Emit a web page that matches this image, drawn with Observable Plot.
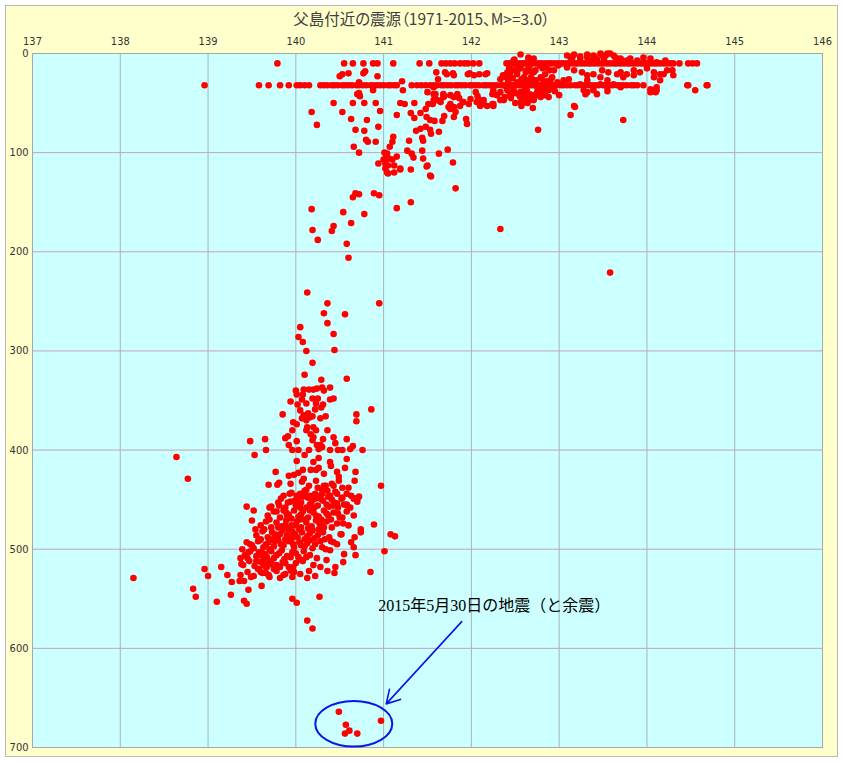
<!DOCTYPE html>
<html><head><meta charset="utf-8">
<script src="https://cdn.jsdelivr.net/npm/d3@7"></script>
<script src="https://cdn.jsdelivr.net/npm/@observablehq/plot@0.6"></script>
<style>
html,body{margin:0;padding:0;background:#fff;}
#box{position:absolute;left:5px;top:5px;width:833px;height:752px;background:#FFFFCC;border:1px solid #B8B8B8;box-sizing:border-box;}
#title{position:absolute;left:0;top:7px;width:843px;text-align:center;font-family:"Noto Sans CJK JP",sans-serif;font-size:15.5px;line-height:22px;color:#404040;font-feature-settings:"palt";}
#chart{position:absolute;left:0;top:28px;}
</style></head><body>
<div id="box"></div>
<div id="title">父島付近の震源（1971-2015、M&gt;=3.0）</div>
<div id="chart"></div>
<script>
// ---- axis ticks ----
const xTicks = [137,138,139,140,141,142,143,144,145,146];
const yTicks = [0,100,200,300,400,500,600,700];

// ---- hypocentres: longitude (°E) of events fixed at ~10 km depth ----
const band10Lon = [139.79,140.55,140.65,140.77,140.88,140.93,141.11,141.41,141.52,141.66,141.71,141.76,141.81,141.87,141.92,141.96,142.02,142.09,
 142.40,142.43,142.47,142.51,142.55,142.58,142.62,142.66,142.69,142.73,142.77,142.80,142.84,142.88,142.91,142.95,142.99,143.03,143.06,143.10,
 143.14,143.18,143.21,143.25,143.29,143.33,143.36,143.40,143.44,143.48,143.51,143.55,143.59,143.63,143.66,143.70,143.74,143.78,143.81,143.85,
 143.89,143.93,143.96,144.00,144.04,144.08,144.11,144.15,144.19,144.23,144.27,144.30,144.37,144.47,144.52,144.57];
// ---- longitude of events fixed at ~32 km depth ----
const band32Lon = [138.96,139.58,139.69,139.82,139.92,140.01,140.05,140.10,140.15,
 140.28,140.32,140.36,140.41,140.44,140.48,140.53,140.56,140.60,140.64,140.69,140.72,140.76,140.80,140.85,140.88,140.92,140.96,141.00,141.05,141.08,141.12,141.15,
 141.32,141.38,141.43,141.48,141.53,141.57,141.61,141.66,141.69,141.73,141.77,141.82,141.85,141.89,141.93,141.98,142.01,142.05,142.09,142.14,142.17,142.21,
 142.25,142.29,142.34,142.37,142.41,142.45,142.49,142.54,142.57,142.61,142.65,142.70,142.73,142.77,142.81,142.86,142.89,142.93,142.97,143.02,143.05,143.09,
 143.13,143.18,143.21,143.25,143.29,143.34,143.37,143.41,143.45,143.50,143.53,143.57,143.61,143.66,143.69,143.73,143.77,143.82,143.85,143.89,143.96,144.47,144.69];
// ---- scattered shallow events [lon, depth km] ----
const shallow = [[140.50,23],[140.53,21],[140.60,20],[140.79,18],[140.77,20],[140.93,23],[140.72,29],[140.72,40],[140.73,43],[140.70,41],[140.88,37],[141.22,37],[141.21,28],
 [140.43,50],[140.65,50],[140.78,50],[140.91,50],[141.19,50],[141.24,51],[141.35,50],
 [140.18,59],[140.24,72],[140.53,59],[140.63,66],[140.81,67],[140.96,58],[140.94,74],[140.68,77],[140.78,78],[140.80,87],[140.82,89],[140.91,89],[140.66,94],[140.72,100],
 [141.11,84],[141.10,89],[141.07,94],[141.01,100],[141.04,101],[141.03,105],[141.00,107],[141.06,106],[141.02,111],[141.05,113],[141.10,107],[140.94,111],[141.04,120],[141.15,104],
 [141.19,116],[141.31,117],[141.27,98],[141.32,101],[141.34,105],[141.44,98],[141.45,106],[141.50,113],[141.53,123],[141.73,97],[141.79,110],[141.44,85],[141.45,88],
 [141.37,78],[141.42,76],[141.48,74],[141.53,77],[141.63,79],[141.54,81],[141.31,60],[141.42,60],[141.35,65],[141.49,64],[141.53,67],[141.58,68],[141.67,68],[141.69,63],
 [141.80,64],[141.82,59],[141.76,56],[141.74,54],[141.48,56],[141.51,51],[141.56,51],[141.61,47],[141.64,48],
 [141.59,41],[141.68,41],[141.57,34],[141.69,43],[141.76,42],[141.86,45],[141.84,41],[141.62,26],[141.72,21],[141.79,20],[141.80,22],[141.60,19],[141.96,21],[142.03,22],
 [142.09,21],[142.18,20],[141.90,49],[141.97,51],[142.05,39],[142.07,43],[142.09,47],[142.14,51],[142.24,51],[141.94,66],[141.95,71],[141.15,62],[141.29,88],[141.63,101],
 [141.54,124],[141.02,116],[141.12,120],[142.76,77],
 [141.50,39],[141.57,41],[141.68,44],[141.80,44],[141.91,49],[141.57,47],[141.65,49],[141.76,51],[141.80,54],[141.87,53],[141.99,46],[142.06,49],[142.10,53],[141.70,19],[141.98,20],
 [141.12,113],[141.19,117],[141.49,114],[141.05,121],[141.82,136]];
// ---- the swarm east of 142°E [lon, depth km] ----
const eastSwarm = [[142.56,1],[142.65,5],[142.48,7],[142.44,14],[142.41,19],[142.39,24],[142.44,22],[142.52,19],[142.56,15],[142.63,17],[142.71,19],[142.60,24],[142.67,27],
 [142.75,34],[142.63,37],[142.69,42],[142.58,44],[142.61,49],[142.71,47],[142.48,36],[142.41,37],[142.45,42],[142.56,29],[142.25,37],[142.29,42],[142.37,47],
 [142.49,6],[142.65,4],[142.71,5],[142.43,15],[142.36,22],[142.33,26],[142.52,21],[142.62,19],[142.67,18],[142.73,17],[142.81,15],[142.85,14],[142.89,17],[142.84,21],
 [142.92,24],[142.79,24],[142.71,27],[142.63,27],[142.46,32],[142.60,31],[142.67,32],[142.79,36],[142.84,31],[142.88,37],[142.75,39],[142.56,39],[142.82,41],[142.60,44],
 [142.56,49],[142.63,47],[142.71,44],[142.77,41],[142.44,41],[142.33,39],[142.24,41],[142.18,53],[142.14,47],[142.25,51],
 [143.17,53],[143.09,2],[143.15,4],[143.24,5],[143.32,4],[143.39,2],[143.47,0],[143.53,2],[143.58,0],[143.64,4],[143.70,5],[143.77,7],[143.51,5],[143.43,6],[143.36,7],
 [143.09,14],[143.17,17],[143.26,19],[143.32,22],[143.39,21],[143.49,17],[143.56,19],[143.66,21],[143.73,24],[143.85,17],[143.92,19],[144.00,15],[144.08,19],[144.15,21],
 [144.23,17],[144.30,22],[144.15,27],[144.08,24],[144.04,36],[144.08,37],[144.11,34],[142.99,12],[142.94,17],[142.90,27],[142.98,29],[143.05,27],[143.11,26],
 [143.28,37],[143.30,41],[143.39,34],[143.55,34],[144.11,37],[144.10,39],[144.46,32],[144.55,37],[144.68,32],[144.04,39],[144.19,21],[144.29,17],[143.96,4],[143.55,0],
 [143.18,54],[143.13,62],[143.73,67],[142.16,21],[142.25,53],[142.33,47],[142.67,47],[142.58,46],
 [142.71,31],[142.77,34],[142.82,29],[142.86,34],[142.90,31],[142.79,44],[142.84,42],[142.88,44],
 [143.24,31],[143.32,27],[143.47,24],[143.32,39],[143.39,37],[143.47,31],[143.55,27],[143.62,31],[143.70,34],[143.55,38],[143.43,41],
 [143.70,19],[143.77,21],[143.85,22],[143.62,2],[143.66,5],[143.72,7],[143.81,5],[143.89,7],[143.96,9],[144.04,5],[144.11,9],[144.21,7],
 [143.13,4],[143.17,1],[143.24,3],[143.32,1],[143.41,4],[143.49,2],
 [142.42,28],[142.47,25],[142.52,29],[142.57,26],[142.62,29],[142.68,24],[142.74,27],[142.80,25],[142.86,28],[142.92,35],[142.45,45],[142.50,40],[142.55,43],[142.60,38],
 [142.66,41],[142.72,44],[142.78,38],[142.84,37],[142.50,50],[142.57,53],[142.64,50],[142.70,55],[142.40,34],[142.38,44],[142.95,38],[143.00,42],[142.52,13],[142.60,10],
 [142.70,8],[142.78,12],[142.66,14],[142.47,17]];
// ---- intermediate-depth events 110-340 km [lon, depth km] ----
const intermediate = [[140.68,141],[140.72,142],[140.65,145],[140.89,141],[140.95,143],[141.15,156],[141.31,150],[140.18,157],[140.54,160],[140.78,162],[140.63,171],
 [140.43,174],[140.41,179],[140.19,178],[140.25,188],[140.58,192],[140.60,206],[142.33,177],[143.58,221],
 [140.13,241],[140.36,252],[140.95,252],[140.32,262],[140.56,263],[140.36,272],[140.05,276],[140.43,283],[140.03,286],[140.08,291],[140.12,300],[140.44,299],
 [140.19,312],[140.10,324],[140.29,329],[140.58,328]];
// ---- deep slab events 335-460 km [lon, depth km] ----
const slab = [[140.00,340],[140.01,344],[140.09,339],[140.15,339],[140.20,339],[140.24,338],[140.30,337],[140.32,340],[140.39,337],
 [140.08,344],[139.94,351],[140.02,354],[140.07,349],[140.12,353],[140.19,348],[140.25,348],[140.23,353],[140.29,357],[140.31,354],[140.39,349],[140.43,348],
 [139.85,364],[139.97,372],[140.01,374],[140.07,368],[140.09,365],[140.12,370],[140.14,363],[140.16,367],[140.19,366],[140.28,368],[140.34,366],[140.69,364],[140.69,371],[140.86,359],
 [139.96,380],[140.13,377],[140.12,380],[140.20,377],[140.23,380],[140.20,387],[140.19,390],[140.24,395],[140.28,395],[140.36,380],[140.43,387],[140.45,393],[140.58,389],[140.65,396],
 [139.48,391],[139.65,389],[139.66,400],[139.53,405],[139.88,388],[139.91,386],[140.01,391],[139.92,395],
 [139.96,400],[140.03,400],[140.15,400],[140.26,399],[140.30,397],[140.39,400],[140.48,400],[140.53,400],[140.62,399],[140.76,400],
 [140.01,411],[140.26,408],[140.39,412],[140.40,416],[140.58,409],[140.56,418],[140.68,422],[140.67,431],[140.49,427],
 [139.77,422],[139.69,435],[139.79,435],[139.92,426],[139.98,425],[140.03,423],[140.08,420],[140.17,420],[140.23,420],[140.26,418],[140.09,429],[140.15,436],
 [140.23,431],[140.25,438],[140.34,436],[140.41,434],[140.49,431],[140.53,438],[140.58,444],[140.67,449],[140.70,449],[140.97,436],[140.58,455],
 [139.93,444],[140.01,446],[140.05,444],[140.13,446],[140.22,444],[140.28,446],[140.39,446],[140.47,444],[140.36,441],
 [139.44,457],[139.52,461],[139.70,458],[139.81,456],[139.91,453],
 [140.47,422],[140.43,436],[140.60,438],[139.81,433],[139.94,434],[140.07,432],[140.32,436],[138.64,407],[138.77,429],
 [140.05,360],[140.22,359],[140.17,384],[140.31,389],[140.10,405],[140.20,412],[140.32,424],[140.12,440],[140.30,440]];
// ---- dense cluster 440-530 km [lon, depth km] ----
const cluster = [[139.86,446],[139.95,443],[140.02,448],[140.10,441],[140.17,446],[140.22,449],[140.30,444],[140.37,447],[140.45,442],[140.52,449],[140.63,446],[140.72,447],
 [139.72,457],[139.80,453],[139.88,458],[139.94,452],[140.00,456],[140.06,453],[140.12,458],[140.18,452],[140.25,456],[140.31,451],[140.38,457],[140.44,453],[140.55,455],[140.62,458],[140.70,452],
 [139.68,466],[139.75,462],[139.82,468],[139.86,461],[139.92,465],[139.98,461],[140.03,467],[140.08,462],[140.14,468],[140.20,463],[140.26,467],[140.32,461],[140.37,466],[140.43,463],[140.50,468],[140.58,462],[140.66,466],
 [139.60,476],[139.66,472],[139.72,478],[139.78,473],[139.84,477],[139.89,471],[139.95,476],[140.01,472],[140.06,478],[140.12,473],[140.18,477],[140.23,471],[140.29,476],[140.35,472],[140.41,478],[140.47,474],[140.60,476],
 [139.55,486],[139.62,482],[139.68,488],[139.73,483],[139.79,487],[139.85,481],[139.90,486],[139.96,482],[140.02,488],[140.07,483],[140.13,487],[140.19,481],[140.25,486],[140.31,483],[140.38,488],[140.52,485],
 [139.50,496],[139.57,492],[139.63,498],[139.69,493],[139.75,497],[139.80,491],[139.86,496],[139.92,492],[139.98,498],[140.04,493],[140.10,497],[140.16,491],[140.22,495],[140.30,498],[140.40,492],
 [139.42,506],[139.48,502],[139.55,507],[139.61,503],[139.67,508],[139.72,502],[139.78,506],[139.84,501],[139.90,507],[139.96,503],[140.03,508],[140.09,502],[140.16,506],[140.24,509],[140.55,505],
 [139.40,516],[139.47,512],[139.53,517],[139.60,513],[139.66,518],[139.72,512],[139.78,516],[139.85,513],[139.92,518],[140.00,514],[140.08,512],[140.20,516],[140.28,518],
 [139.45,523],[139.52,527],[139.62,524],[139.70,528],[139.78,522],[139.86,526],[139.95,522],[140.05,525],[140.22,527],
 [139.90,466],[140.00,476],[140.10,470],[139.82,485],[139.95,488],[140.06,465],[140.16,484],[139.88,476],[140.21,458],[139.76,492],[140.05,458],[139.70,500],[139.97,495],[140.14,448],[140.27,474],[140.33,490],
 [139.83,449],[139.99,451],[140.08,447],[140.16,455],[140.28,449],[140.35,455],[140.41,450],[140.48,458],[139.78,462],[139.89,463],[139.95,469],[140.05,470],[140.16,461],
 [140.23,466],[140.29,470],[140.35,464],[140.40,470],[139.70,470],[139.80,478],[139.92,480],[140.04,480],[140.14,479],[140.26,480],[140.32,478],[139.64,480],[139.76,485],
 [139.88,490],[139.99,485],[140.10,490],[140.21,489],[140.28,492],[139.60,490],[139.66,495],[139.73,490],[139.83,495],[139.95,490],[140.06,496],[140.13,494],[140.19,499],
 [139.52,499],[139.58,503],[139.65,505],[139.75,509],[139.81,504],[139.87,510],[139.94,508],[140.00,504],[140.06,511],[140.12,508],[139.45,509],[139.55,512],[139.63,516],
 [139.69,514],[139.75,520],[139.82,518],[139.88,514],[139.97,518],[139.58,520],[139.66,524]];
// ---- deepest and western events [lon, depth km] ----
const deep = [[138.15,529],[138.83,540],[138.86,548],[138.96,520],[139.00,527],[139.15,518],[139.10,553],[139.26,546],[139.27,533],[139.22,526],[139.37,526],[139.36,532],
 [139.41,532],[139.46,541],[139.41,552],[139.44,555],[139.49,528],[139.50,471],[139.54,480],[139.59,491],[139.44,493],[139.48,495],[139.39,500],[139.46,503],[139.37,509],[139.38,515],
 [139.60,506],[139.63,511],[139.67,518],[139.60,523],[139.69,526],[139.57,520],[139.71,515],[139.79,517],[139.82,529],[139.88,525],[139.94,521],[139.96,528],[139.98,523],[139.61,537],
 [139.96,550],[140.01,554],[140.13,572],[140.19,580],[140.27,548],[140.15,522],[140.13,529],[140.35,511],[140.36,522],[140.45,518],[140.44,524],[140.54,513],
 [140.68,506],[140.66,498],[140.63,493],[140.67,488],[140.51,485],[140.54,474],[140.53,468],[140.48,464],[140.43,493],[140.47,495],[140.34,500],[140.39,501],
 [140.74,480],[140.74,483],[140.89,475],[141.01,502],[140.85,523],[141.08,485],[141.13,487],[140.66,449],[140.58,456],[140.53,448],[140.43,456],[140.47,454]];
// ---- 2015-05-30 earthquake and aftershocks [lon, depth km] ----
const event2015 = [[140.49,664],[140.57,677],[140.56,686],[140.61,683],[140.70,686],[140.97,673]];

// ---- annotation ----
const noteText = ["2015年5月30日の地震（と余震）"];
const notePos = [140.94, 557];
const arrowFrom = [141.89, 573];
const arrowTo = [141.03, 656];
const ringCenter = [140.66, 676];

const pairs = [...shallow, ...eastSwarm, ...intermediate, ...slab, ...cluster, ...deep, ...event2015]
  .map(([lon, dep]) => ({lon, dep}))
  .concat(band10Lon.map(lon => ({lon, dep: 10})))
  .concat(band32Lon.map(lon => ({lon, dep: 32})));

const ellipseSymbol = {
  draw(ctx) {
    const rx = 38.5, ry = 22.8, k = 0.5523;
    ctx.moveTo(rx, 0);
    ctx.bezierCurveTo(rx, ry * k, rx * k, ry, 0, ry);
    ctx.bezierCurveTo(-rx * k, ry, -rx, ry * k, -rx, 0);
    ctx.bezierCurveTo(-rx, -ry * k, -rx * k, -ry, 0, -ry);
    ctx.bezierCurveTo(rx * k, -ry, rx, -ry * k, rx, 0);
    ctx.closePath();
  }
};

const chart = Plot.plot({
  width: 843,
  height: 735,
  marginTop: 25,
  marginBottom: 16,
  marginLeft: 32,
  marginRight: 21,
  style: {background: "transparent", fontFamily: "'Liberation Sans Narrow','Arial Narrow','DejaVu Sans Condensed',sans-serif", fontSize: "11px", color: "#333"},
  x: {domain: [137, 146]},
  y: {domain: [0, 700], reverse: true},
  marks: [
    Plot.frame({fill: "#CCFFFF", stroke: null}),
    Plot.gridX({ticks: xTicks, stroke: "#A8B4B4", strokeOpacity: 1}),
    Plot.gridY({ticks: yTicks, stroke: "#C8A2B6", strokeOpacity: 1}),
    Plot.frame({stroke: "#A8A8A8"}),
    Plot.axisX({ticks: xTicks, anchor: "top", tickSize: 0, tickPadding: 9, label: null, tickFormat: d => String(d)}),
    Plot.axisY({ticks: yTicks, anchor: "left", tickSize: 0, tickPadding: 4, label: null, tickFormat: d => String(d)}),
    Plot.dot(pairs, {x: "lon", y: "dep", r: 3.3, fill: "#FF0000", stroke: null}),
    Plot.dot([ringCenter], {x: d => d[0], y: d => d[1], r: 10, symbol: ellipseSymbol, fill: "none", stroke: "#0A14E6", strokeWidth: 2}),
    Plot.arrow([{a: arrowFrom, b: arrowTo}], {x1: d => d.a[0], y1: d => d.a[1], x2: d => d.b[0], y2: d => d.b[1], stroke: "#0A14E6", strokeWidth: 1.6, headLength: 14, bend: 0}),
    Plot.text(noteText, {x: () => notePos[0], y: () => notePos[1], text: d => d, textAnchor: "start", fontSize: 16, fontFamily: "'Liberation Serif','Noto Sans CJK JP',serif", fill: "#000"})
  ]
});
document.getElementById("chart").appendChild(chart);
</script></body></html>
